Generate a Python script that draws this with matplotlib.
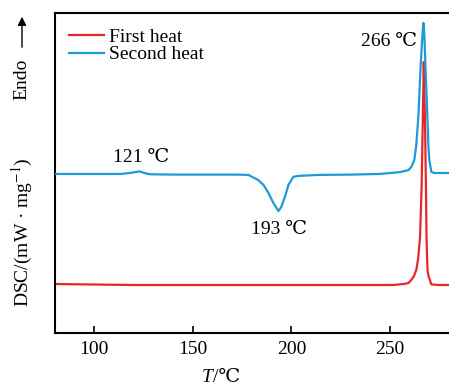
import matplotlib
matplotlib.use("Agg")
import matplotlib.pyplot as plt
from matplotlib.patches import FancyArrowPatch

# Temperatures (°C) and DSC signal (arbitrary mW/mg units)
t_first = [80, 120, 160, 200, 240, 251.8, 256.8, 259.4, 260.9, 262.2, 263.4, 264.4, 265.3,
           266.1, 266.7, 267.2, 267.8, 268.3, 268.6, 268.9, 269.1, 269.6, 270.3, 271.0,
           274.6, 280]
dsc_first = [1.53, 1.50, 1.50, 1.50, 1.50, 1.50, 1.53, 1.56, 1.66, 1.78, 1.97, 2.35, 3.00,
             4.56, 6.66, 8.47, 6.66, 4.56, 3.00, 2.30, 1.97, 1.78, 1.66, 1.52,
             1.50, 1.50]

t_second = [80, 100, 113.2, 118, 122.8, 126, 128.4, 140, 160, 172, 178.2, 183.2, 185.8, 188.3,
            190.9, 193.4, 194.9, 197.0, 198.5, 201.0, 203.6, 213.7, 230, 245, 255.3, 259.4,
            260.9, 262.4, 263.4, 264.5, 265.5, 266.5, 267.0, 267.5, 268.3, 269.0, 269.5,
            270.0, 270.6, 271.1, 272.6, 280]
dsc_second = [4.97, 4.97, 4.97, 5.00, 5.05, 4.99, 4.96, 4.95, 4.95, 4.95, 4.94, 4.78, 4.63, 4.38,
              4.06, 3.81, 3.94, 4.31, 4.63, 4.88, 4.91, 4.94, 4.95, 4.97, 5.03, 5.09,
              5.19, 5.41, 5.88, 6.81, 8.22, 9.31, 9.69, 9.31, 7.91, 6.81, 5.88,
              5.41, 5.19, 5.03, 5.00, 5.00]

labels = ["First heat", "Second heat"]
x_ticks = [100, 150, 200, 250]
annotations = [("121 ℃", 123.5, 5.47), ("193 ℃", 193.5, 3.25), ("266 ℃", 263.7, 9.1)]

serif = ["Liberation Serif", "DejaVu Serif", "Noto Sans CJK SC"]
plt.rcParams["font.family"] = serif
plt.rcParams["mathtext.fontset"] = "stix"

fig = plt.figure(figsize=(4.49, 3.86), dpi=100)
ax = fig.add_axes([55 / 449, 53 / 386, 1 - 55 / 449, 320 / 386])

red = "#e8262a"
blue = "#1e9ad6"
ax.plot(t_first, dsc_first, color=red, lw=1.6, label=labels[0], zorder=2)
ax.plot(t_second, dsc_second, color=blue, lw=1.6, label=labels[1], zorder=3)

ax.set_xlim(80, 280)
ax.set_ylim(0, 10)
ax.set_xticks(x_ticks)
ax.set_yticks([])
ax.tick_params(axis="x", direction="in", length=5, width=1.2, labelsize=14, pad=6)
for s in ["left", "bottom", "top"]:
    ax.spines[s].set_linewidth(1.5)
ax.spines["right"].set_visible(False)

ax.legend(loc="upper left", frameon=False, fontsize=14, handlelength=1.8,
          handletextpad=0.3, labelspacing=0.0, borderaxespad=0.3,
          bbox_to_anchor=(0.0, 0.995))

for txt, x, y in annotations:
    ha = "right" if x > 250 else "center"
    ax.text(x, y, txt, fontsize=14, ha=ha, va="center")

fig.text(213 / 449, 1 - 378 / 386, "T", fontsize=14, style="italic", ha="right", va="center")
fig.text(213 / 449, 1 - 378 / 386, "/℃", fontsize=14, ha="left", va="center")
fig.text(22 / 449, 1 - 232 / 386, "DSC/(mW · mg$^{-1}$)", fontsize=14, rotation=90,
         ha="center", va="center")
fig.text(22 / 449, 1 - 79 / 386, "Endo", fontsize=14, rotation=90, ha="center", va="center")
fig.add_artist(FancyArrowPatch(
    (22 / 449, 1 - 50 / 386), (22 / 449, 1 - 14 / 386), transform=fig.transFigure,
    arrowstyle="-|>,head_length=5,head_width=2.5", color="black", lw=1.0))

fig.savefig("out.png", dpi=100)
